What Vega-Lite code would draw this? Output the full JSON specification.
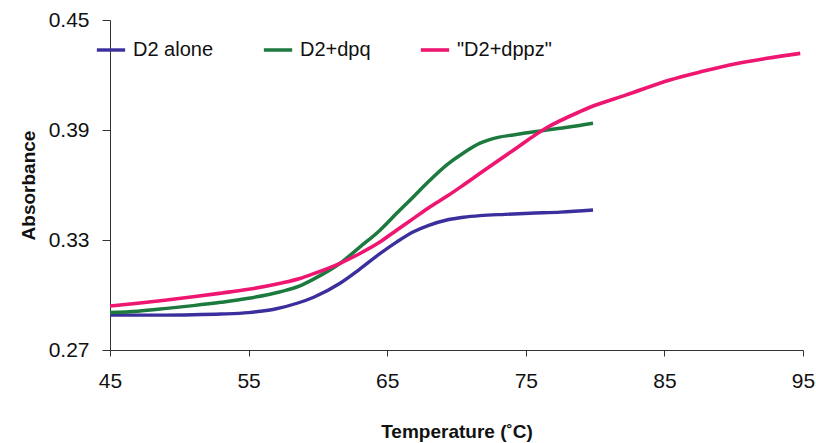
{
  "$schema": "https://vega.github.io/schema/vega-lite/v6.json",
  "width": 693,
  "height": 330,
  "autosize": {"type": "none"},
  "padding": {"left": 110, "top": 20, "right": 13, "bottom": 93},
  "background": "white",
  "config": {
    "view": {"stroke": null},
    "font": "Liberation Sans",
    "axis": {"grid": false, "domainColor": "#333", "tickColor": "#333", "labelColor": "#111", "titleColor": "#111", "labelFont": "Liberation Sans", "titleFont": "Liberation Sans"}
  },
  "data": {
    "values": [
      {"series": "D2 alone", "temp": 45, "abs": 0.2891},
      {"series": "D2 alone", "temp": 47, "abs": 0.2890},
      {"series": "D2 alone", "temp": 49, "abs": 0.2890},
      {"series": "D2 alone", "temp": 51, "abs": 0.2892},
      {"series": "D2 alone", "temp": 53, "abs": 0.2896},
      {"series": "D2 alone", "temp": 55, "abs": 0.2904},
      {"series": "D2 alone", "temp": 57, "abs": 0.2925},
      {"series": "D2 alone", "temp": 58.5, "abs": 0.2955},
      {"series": "D2 alone", "temp": 59.7, "abs": 0.2988},
      {"series": "D2 alone", "temp": 61.6, "abs": 0.3064},
      {"series": "D2 alone", "temp": 63, "abs": 0.3140},
      {"series": "D2 alone", "temp": 64.5, "abs": 0.3227},
      {"series": "D2 alone", "temp": 65.7, "abs": 0.3290},
      {"series": "D2 alone", "temp": 66.9, "abs": 0.3345},
      {"series": "D2 alone", "temp": 68, "abs": 0.3380},
      {"series": "D2 alone", "temp": 69.3, "abs": 0.3409},
      {"series": "D2 alone", "temp": 70.5, "abs": 0.3424},
      {"series": "D2 alone", "temp": 71.7, "abs": 0.3433},
      {"series": "D2 alone", "temp": 73.5, "abs": 0.3440},
      {"series": "D2 alone", "temp": 75.3, "abs": 0.3446},
      {"series": "D2 alone", "temp": 77.5, "abs": 0.3452},
      {"series": "D2 alone", "temp": 79.85, "abs": 0.3464},
      {"series": "D2+dpq", "temp": 45, "abs": 0.2904},
      {"series": "D2+dpq", "temp": 47, "abs": 0.2912},
      {"series": "D2+dpq", "temp": 49.1, "abs": 0.2927},
      {"series": "D2+dpq", "temp": 51, "abs": 0.2942},
      {"series": "D2+dpq", "temp": 53, "abs": 0.2960},
      {"series": "D2+dpq", "temp": 55, "abs": 0.2982},
      {"series": "D2+dpq", "temp": 57.3, "abs": 0.3018},
      {"series": "D2+dpq", "temp": 58.7, "abs": 0.3050},
      {"series": "D2+dpq", "temp": 59.65, "abs": 0.3085},
      {"series": "D2+dpq", "temp": 61.6, "abs": 0.3173},
      {"series": "D2+dpq", "temp": 63, "abs": 0.3260},
      {"series": "D2+dpq", "temp": 64.5, "abs": 0.3355},
      {"series": "D2+dpq", "temp": 65.7, "abs": 0.3447},
      {"series": "D2+dpq", "temp": 66.9, "abs": 0.3536},
      {"series": "D2+dpq", "temp": 68, "abs": 0.3620},
      {"series": "D2+dpq", "temp": 69.3, "abs": 0.3710},
      {"series": "D2+dpq", "temp": 70.5, "abs": 0.3775},
      {"series": "D2+dpq", "temp": 71.7, "abs": 0.3828},
      {"series": "D2+dpq", "temp": 73, "abs": 0.3860},
      {"series": "D2+dpq", "temp": 74.1, "abs": 0.3873},
      {"series": "D2+dpq", "temp": 76.5, "abs": 0.3900},
      {"series": "D2+dpq", "temp": 78, "abs": 0.3915},
      {"series": "D2+dpq", "temp": 79.85, "abs": 0.3937},
      {"series": "\"D2+dppz\"", "temp": 45, "abs": 0.2940},
      {"series": "\"D2+dppz\"", "temp": 47, "abs": 0.2955},
      {"series": "\"D2+dppz\"", "temp": 49.1, "abs": 0.2973},
      {"series": "\"D2+dppz\"", "temp": 51, "abs": 0.2990},
      {"series": "\"D2+dppz\"", "temp": 53, "abs": 0.3010},
      {"series": "\"D2+dppz\"", "temp": 55, "abs": 0.3031},
      {"series": "\"D2+dppz\"", "temp": 57.3, "abs": 0.3064},
      {"series": "\"D2+dppz\"", "temp": 58.7, "abs": 0.3090},
      {"series": "\"D2+dppz\"", "temp": 59.65, "abs": 0.3115},
      {"series": "\"D2+dppz\"", "temp": 61.6, "abs": 0.3173},
      {"series": "\"D2+dppz\"", "temp": 63, "abs": 0.3225},
      {"series": "\"D2+dppz\"", "temp": 64.5, "abs": 0.3290},
      {"series": "\"D2+dppz\"", "temp": 65.7, "abs": 0.3355},
      {"series": "\"D2+dppz\"", "temp": 66.9, "abs": 0.3418},
      {"series": "\"D2+dppz\"", "temp": 68, "abs": 0.3476},
      {"series": "\"D2+dppz\"", "temp": 69.3, "abs": 0.3538},
      {"series": "\"D2+dppz\"", "temp": 70.5, "abs": 0.3600},
      {"series": "\"D2+dppz\"", "temp": 71.7, "abs": 0.3664},
      {"series": "\"D2+dppz\"", "temp": 74.1, "abs": 0.3790},
      {"series": "\"D2+dppz\"", "temp": 76.5, "abs": 0.3912},
      {"series": "\"D2+dppz\"", "temp": 78.9, "abs": 0.4000},
      {"series": "\"D2+dppz\"", "temp": 80, "abs": 0.4035},
      {"series": "\"D2+dppz\"", "temp": 82.2, "abs": 0.4090},
      {"series": "\"D2+dppz\"", "temp": 85.4, "abs": 0.4173},
      {"series": "\"D2+dppz\"", "temp": 87.5, "abs": 0.4215},
      {"series": "\"D2+dppz\"", "temp": 89.7, "abs": 0.4255},
      {"series": "\"D2+dppz\"", "temp": 92.4, "abs": 0.4291},
      {"series": "\"D2+dppz\"", "temp": 94.8, "abs": 0.4318}
    ]
  },
  "mark": {"type": "line", "interpolate": "monotone"},
  "encoding": {
    "x": {
      "field": "temp", "type": "quantitative",
      "scale": {"domain": [45, 95], "nice": false, "zero": false},
      "axis": {"values": [45, 55, 65, 75, 85, 95], "title": "Temperature (˚C)", "titleFontSize": 19, "titleFontWeight": "bold", "titlePadding": 31, "labelFontSize": 21, "labelPadding": 14, "tickSize": 6, "labelFlush": false}
    },
    "y": {
      "field": "abs", "type": "quantitative",
      "scale": {"domain": [0.27, 0.45], "nice": false, "zero": false},
      "axis": {"values": [0.27, 0.33, 0.39, 0.45], "format": ".2f", "title": "Absorbance", "titleFontSize": 19, "titleFontWeight": "bold", "titlePadding": 10, "labelFontSize": 21, "labelPadding": 13, "tickSize": 8}
    },
    "color": {
      "field": "series", "type": "nominal",
      "scale": {"domain": ["D2 alone", "D2+dpq", "\"D2+dppz\""], "range": ["#3b2f9d", "#1d7a3f", "#ee1670"]},
      "legend": {"title": null, "orient": "none", "legendX": -15, "legendY": 14, "direction": "horizontal", "symbolType": "stroke", "symbolSize": 800, "symbolStrokeWidth": 2, "labelFontSize": 20, "labelOffset": 6, "columnPadding": 42, "labelColor": "#111"}
    },
    "strokeWidth": {
      "field": "series", "type": "nominal",
      "scale": {"domain": ["D2 alone", "D2+dpq", "\"D2+dppz\""], "range": [3.4, 3.6, 2.7]},
      "legend": null
    },
    "order": {"field": "temp", "type": "quantitative"}
  }
}
